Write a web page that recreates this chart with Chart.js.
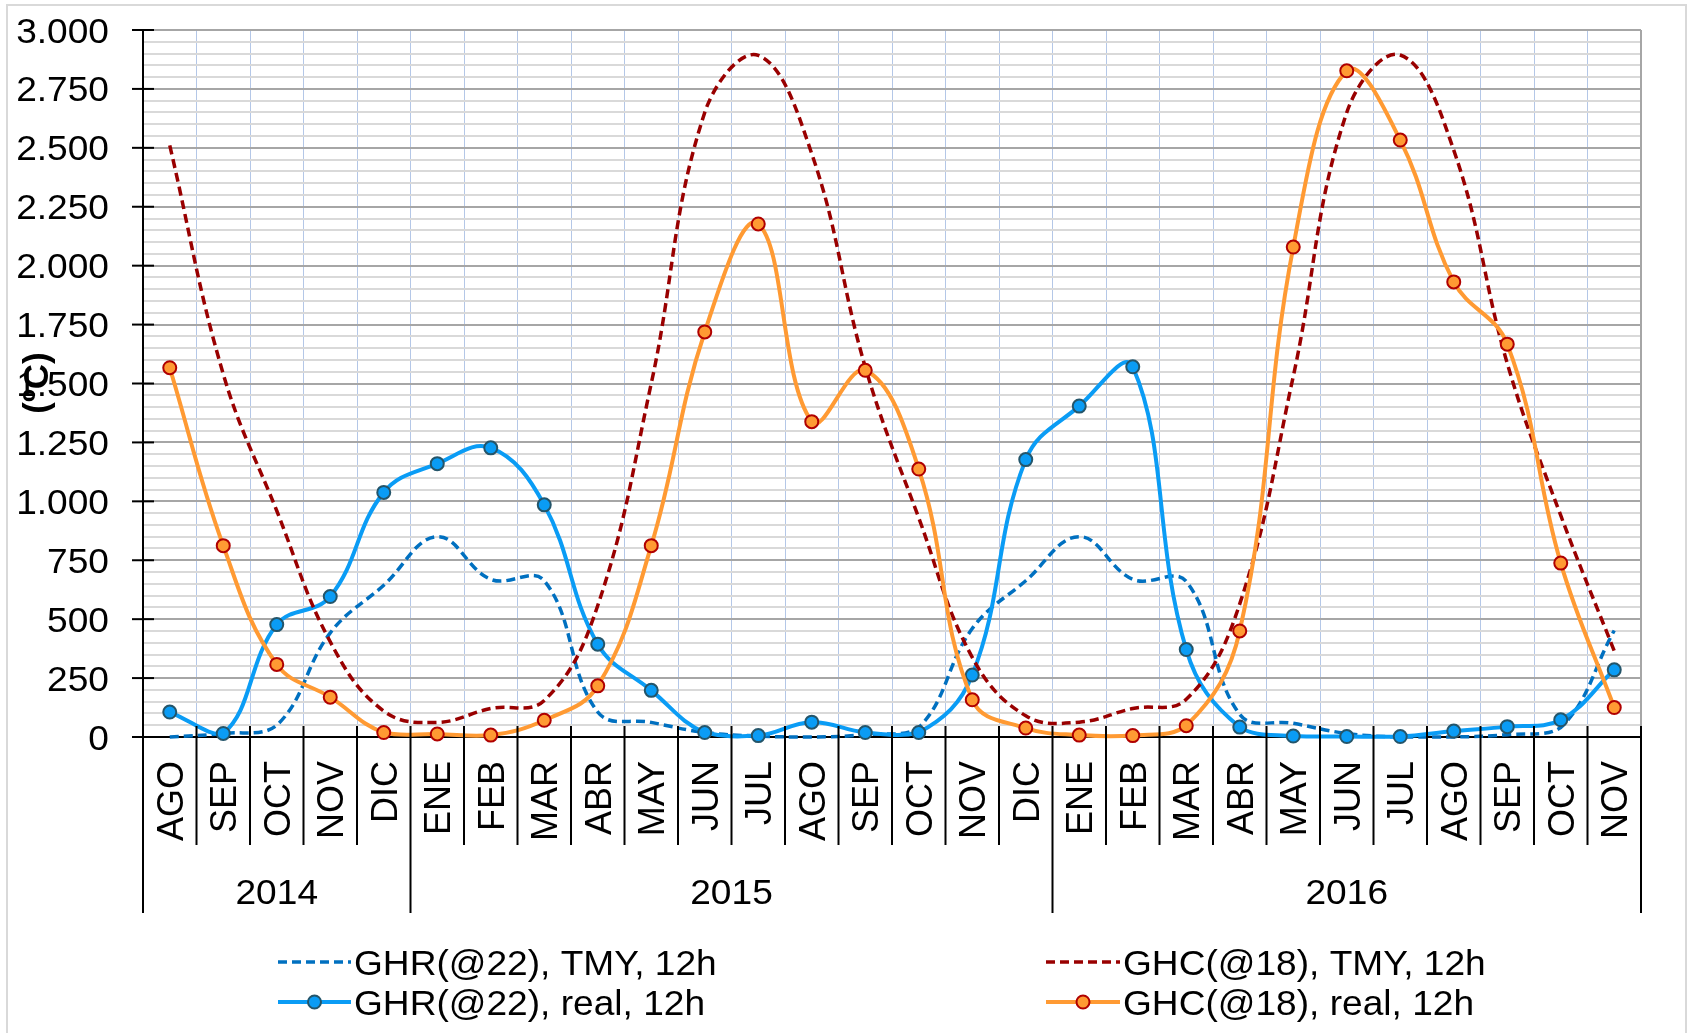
<!DOCTYPE html>
<html lang="es">
<head>
<meta charset="utf-8">
<title>GHR / GHC mensual</title>
<script src="https://cdn.jsdelivr.net/npm/chart.js@4.4.1/dist/chart.umd.min.js"></script>
<style>
  html, body { margin: 0; padding: 0; background: #fff; }
  #contenedor { width: 1688px; height: 1033px; position: relative; }
</style>
</head>
<body>
<div id="contenedor"><canvas id="grafico"></canvas></div>
<script>
// Meses del periodo (agosto 2014 - noviembre 2016)
const meses = ['AGO','SEP','OCT','NOV','DIC',
  'ENE','FEB','MAR','ABR','MAY','JUN','JUL','AGO','SEP','OCT','NOV','DIC',
  'ENE','FEB','MAR','ABR','MAY','JUN','JUL','AGO','SEP','OCT','NOV'];
const anios = ['2014', '2015', '2016'];
const mesesPorAnio = [5, 12, 11];

// Grados-hora mensuales
const ghrTmy  = [0, 15, 50, 442, 644, 850, 669, 663, 106, 62, 19, 4, 0, 10, 40, 460, 663, 850, 669, 660, 96, 58, 15, 0, 0, 10, 40, 452];
const ghrReal = [106, 15, 477, 596, 1038, 1160, 1227, 985, 394, 198, 19, 6, 63, 19, 19, 263, 1177, 1404, 1571, 371, 42, 4, 2, 2, 25, 44, 73, 285];
const ghcTmy  = [2510, 1540, 960, 404, 110, 62, 121, 155, 558, 1500, 2650, 2892, 2475, 1570, 930, 338, 90, 63, 121, 160, 565, 1530, 2650, 2894, 2490, 1585, 940, 365];
const ghcReal = [1567, 812, 308, 169, 19, 13, 8, 71, 217, 812, 1719, 2177, 1338, 1556, 1137, 158, 38, 8, 6, 48, 450, 2079, 2827, 2533, 1931, 1667, 738, 125];

// Marcas principales del eje Y
const marcasY = [0, 250, 500, 750, 1000, 1250, 1500, 1750, 2000, 2250, 2500, 2750, 3000];

const FUENTE = '"Liberation Sans", Arial, sans-serif';
const TAM = 35;          // tamaño de letra de los textos horizontales
const ANCHO_X = 1.06;    // letra algo ensanchada
const CAP = 0.358 * TAM; // media altura de mayúscula

function formatoMiles(v) {
  return String(v).replace(/\B(?=(\d{3})+(?!\d))/g, '.');
}

const series = [
  { label: 'GHR(@22), TMY, 12h', data: ghrTmy, borderColor: '#0070C0', borderDash: [9, 5],
    borderWidth: 3.5, pointRadius: 0, order: 3 },
  { label: 'GHR(@22), real, 12h', data: ghrReal, borderColor: '#0A9CF5', pointBackgroundColor: '#0A9CF5',
    pointBorderColor: '#24556A', pointRadius: 6.5, pointBorderWidth: 2, borderWidth: 4, order: 2 },
  { label: 'GHC(@18), TMY, 12h', data: ghcTmy, borderColor: '#990000', borderDash: [9, 5],
    borderWidth: 3.5, pointRadius: 0, order: 1 },
  { label: 'GHC(@18), real, 12h', data: ghcReal, borderColor: '#FF9A33', pointBackgroundColor: '#FF9A33',
    pointBorderColor: '#B00000', pointRadius: 6.5, pointBorderWidth: 2, borderWidth: 4, order: 0 }
];

function linea(ctx, x0, y0, x1, y1) {
  ctx.beginPath();
  ctx.moveTo(x0, y0);
  ctx.lineTo(x1, y1);
  ctx.stroke();
}

// texto horizontal centrado en altura sobre yc
function texto(ctx, t, x, yc, align) {
  ctx.save();
  ctx.translate(x, yc + CAP);
  ctx.scale(ANCHO_X, 1);
  ctx.font = `${TAM}px ${FUENTE}`;
  ctx.textAlign = align;
  ctx.textBaseline = 'alphabetic';
  ctx.fillStyle = '#000';
  ctx.fillText(t, 0, 0);
  ctx.restore();
}

// Eje de categorías en dos niveles, rótulos del eje Y, leyenda y marco
const decoracion = {
  id: 'decoracion',
  afterDraw(chart) {
    const { ctx, chartArea: a, scales: { x, y } } = chart;
    const ancho = (a.right - a.left) / meses.length;
    const limites = [0];
    mesesPorAnio.forEach(n => limites.push(limites[limites.length - 1] + n));

    ctx.save();
    ctx.lineCap = 'butt';

    // borde derecho del área de trazado
    ctx.strokeStyle = '#A6A6A6';
    ctx.lineWidth = 2;
    linea(ctx, a.right, a.top, a.right, a.bottom);

    // marcas cruzadas y rótulos del eje Y
    ctx.strokeStyle = '#000';
    marcasY.forEach(v => {
      const py = y.getPixelForValue(v);
      linea(ctx, a.left - 11, py, a.left + 11, py);
      texto(ctx, formatoMiles(v), a.left - 34, py, 'right');
    });

    // separadores de meses y de años
    for (let i = 0; i <= meses.length; i++) {
      const px = a.left + i * ancho;
      const fin = limites.includes(i) ? a.bottom + 176 : a.bottom + 108;
      linea(ctx, px, a.bottom - 11, px, fin);
    }

    // meses, en vertical
    ctx.fillStyle = '#000';
    ctx.font = `36px ${FUENTE}`;
    meses.forEach((m, i) => {
      const px = x.getPixelForValue(i);
      ctx.save();
      ctx.translate(px, a.bottom + 24);
      ctx.rotate(-Math.PI / 2);
      ctx.textAlign = 'right';
      ctx.textBaseline = 'alphabetic';
      ctx.fillText(m, 0, 0.358 * 36);
      ctx.restore();
    });

    // años
    anios.forEach((t, k) => {
      const x0 = a.left + limites[k] * ancho;
      const x1 = a.left + limites[k + 1] * ancho;
      texto(ctx, t, (x0 + x1) / 2, a.bottom + 154, 'center');
    });

    // título del eje Y
    ctx.save();
    ctx.font = `bold 35px ${FUENTE}`;
    ctx.textAlign = 'center';
    ctx.textBaseline = 'middle';
    ctx.translate(38, 383);
    ctx.rotate(-Math.PI / 2);
    ctx.fillText('(ºC)', 0, 0);
    ctx.restore();

    // leyenda
    const columnas = [[278, 351], [1046, 1120]];
    const filas = [962, 1002];
    chart.data.datasets.forEach((ds, k) => {
      const [x0, x1] = columnas[Math.floor(k / 2)];
      const ly = filas[k % 2];
      ctx.strokeStyle = ds.borderColor;
      ctx.lineWidth = ds.borderWidth;
      ctx.setLineDash(ds.borderDash || []);
      linea(ctx, x0, ly, x1, ly);
      ctx.setLineDash([]);
      if (ds.pointRadius > 0) {
        ctx.beginPath();
        ctx.arc((x0 + x1) / 2, ly, ds.pointRadius, 0, Math.PI * 2);
        ctx.fillStyle = ds.pointBackgroundColor;
        ctx.fill();
        ctx.lineWidth = ds.pointBorderWidth;
        ctx.strokeStyle = ds.pointBorderColor;
        ctx.stroke();
      }
      texto(ctx, ds.label, x1 + 3, ly, 'left');
    });

    // marco exterior (izquierda, arriba y derecha)
    ctx.strokeStyle = '#D9D9D9';
    ctx.lineWidth = 2;
    ctx.beginPath();
    ctx.moveTo(7, 1033);
    ctx.lineTo(7, 5);
    ctx.lineTo(1686, 5);
    ctx.lineTo(1686, 1033);
    ctx.stroke();
    ctx.restore();
  }
};

const grafico = new Chart(document.getElementById('grafico'), {
  type: 'line',
  data: {
    labels: meses,
    datasets: series.map(s => Object.assign({ fill: false, tension: 0.4, clip: false }, s))
  },
  options: {
    responsive: true,
    maintainAspectRatio: false,
    animation: false,
    layout: { padding: { left: 0, top: 30, right: 47, bottom: 0 } },
    plugins: { legend: { display: false }, tooltip: { enabled: false } },
    scales: {
      x: {
        offset: true,
        grid: { offset: true, color: '#B4C7E7', lineWidth: 1, drawTicks: false },
        border: { color: '#000', width: 2 },
        ticks: { display: false },
        afterFit(s) { s.height = 296; s.paddingLeft = 0; s.paddingRight = 0; }
      },
      y: {
        min: 0,
        max: 3000,
        grid: {
          color: c => (c.tick && c.tick.value % 250 === 0) ? '#A6A6A6' : '#D9D9D9',
          lineWidth: 2,
          drawTicks: false
        },
        border: { color: '#000', width: 2 },
        ticks: { stepSize: 50, maxTicksLimit: 100, autoSkip: false, display: false },
        afterFit(s) { s.width = 143; s.paddingTop = 0; s.paddingBottom = 0; }
      }
    }
  },
  plugins: [decoracion]
});
</script>
</body>
</html>
